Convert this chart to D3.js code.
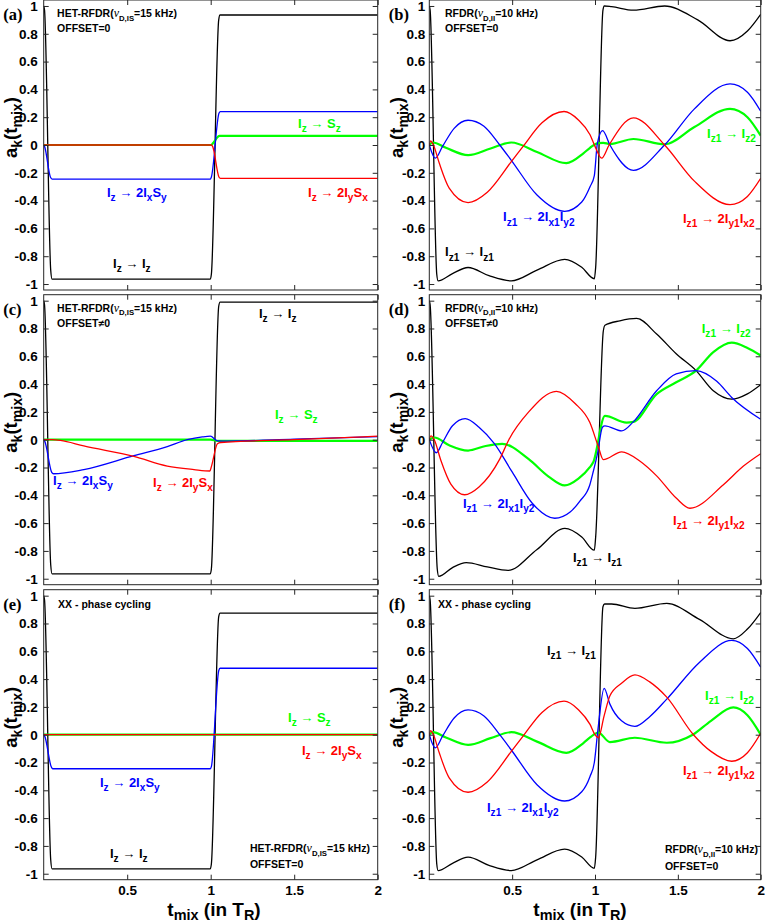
<!DOCTYPE html>
<html><head><meta charset="utf-8">
<script src="https://cdn.jsdelivr.net/npm/d3@7"></script>
<style>body{margin:0;background:#fff}svg{display:block}</style>
</head><body><svg id="c" width="768" height="922"></svg>
<script>
// ---------- tick values / labels ----------
const yTickValues = [-1,-0.8,-0.6,-0.4,-0.2,0,0.2,0.4,0.6,0.8,1];
const yTickLabels = ["-1","-0.8","-0.6","-0.4","-0.2","0","0.2","0.4","0.6","0.8","1"];
const xTickValues = [0.5,1,1.5,2];
const xTickLabels = ["0.5","1","1.5","2"];

// ---------- series: [t_mix (T_R), a_k] ----------
// (a) HET-RFDR, offset = 0
const aBlack = [[0,1],[0.005,0.97],[0.042,-0.9],[0.05,-0.965],[0.998,-0.965],[1.004,-0.93],[1.048,0.9],[1.056,0.935],[2,0.935]];
const aGreen = [[0,0],[1.004,0],[1.012,0.01],[1.044,0.06],[1.052,0.065],[2,0.065]];
const aBlue  = [[0,0],[0.005,-0.01],[0.04,-0.23],[0.05,-0.245],[0.998,-0.245],[1.004,-0.23],[1.05,0.23],[1.058,0.24],[2,0.24]];
const aRed   = [[0,0],[1.004,0],[1.012,-0.012],[1.05,-0.232],[1.058,-0.24],[2,-0.24]];
// (c) HET-RFDR, offset != 0
const cBlack = [[0,1],[0.005,0.97],[0.042,-0.9],[0.05,-0.965],[0.998,-0.965],[1.004,-0.93],[1.048,0.96],[1.056,0.99],[2,0.99]];
const cGreen = [[0,0],[1.0,0],[1.04,-0.008],[2,-0.008]];
const cBlue  = [[0,0],[0.006,-0.01],[0.048,-0.235],[0.058,-0.245],[0.24,-0.215],[0.54,-0.115],[0.74,-0.05],[0.86,0],[0.95,0.02],[0.998,0.025],[1.04,-0.008],[1.1,-0.01],[1.5,0.004],[2,0.022]];
const cRed   = [[0,0],[0.05,0],[0.1,-0.005],[0.24,-0.045],[0.54,-0.12],[0.74,-0.19],[0.9,-0.215],[0.995,-0.225],[1.005,-0.19],[1.04,-0.03],[1.06,-0.02],[1.5,0],[2,0.025]];
// (e) HET-RFDR, XX phase cycling
const eBlack = [[0,1],[0.005,0.97],[0.042,-0.9],[0.05,-0.965],[0.998,-0.965],[1.004,-0.93],[1.048,0.85],[1.056,0.875],[2,0.875]];
const eGreen = [[0,0],[2,0]];
const eBlue  = [[0,0],[0.006,-0.01],[0.045,-0.23],[0.054,-0.245],[0.998,-0.245],[1.004,-0.23],[1.048,0.46],[1.056,0.478],[2,0.478]];
const eRed   = [[0,0],[2,0]];
// (b) RFDR, offset = 0
const bBlack = [[0,1],[0.005,0.97],[0.045,-0.93],[0.053,-0.977],[0.14,-0.925],[0.234,-0.881],[0.36,-0.94],[0.495,-0.977],[0.65,-0.9],[0.817,-0.823],[0.92,-0.88],[0.996,-0.962],[1.004,-0.88],[1.048,0.97],[1.056,1.0],[1.1,0.995],[1.232,0.97],[1.42,1.0],[1.62,0.9],[1.815,0.75],[1.92,0.82],[2,0.94]];
const bGreen = [[0,0],[0.022,0.018],[0.1,-0.02],[0.234,-0.073],[0.37,-0.025],[0.495,0.018],[0.65,-0.05],[0.827,-0.131],[0.93,-0.06],[0.97,-0.02],[1.02,0.014],[1.05,0.016],[1.09,0.007],[1.232,0.043],[1.42,0.005],[1.6,0.13],[1.815,0.26],[1.92,0.2],[2,0.067]];
const bBlue  = [[0,0],[0.036,-0.095],[0.08,-0.01],[0.15,0.12],[0.234,0.178],[0.33,0.135],[0.425,0.0],[0.495,-0.11],[0.65,-0.36],[0.817,-0.477],[0.92,-0.41],[0.97,-0.3],[0.996,-0.22],[1.014,0.01],[1.046,0.103],[1.09,0.0],[1.232,-0.182],[1.42,0.0],[1.6,0.26],[1.815,0.439],[1.92,0.38],[2,0.243]];
const bRed   = [[0,0],[0.008,0.03],[0.025,0],[0.06,-0.13],[0.12,-0.31],[0.234,-0.414],[0.35,-0.34],[0.495,-0.12],[0.566,-0.01],[0.68,0.16],[0.813,0.241],[0.9,0.18],[0.97,0.074],[1.0,-0.01],[1.04,-0.095],[1.085,0],[1.232,0.195],[1.42,0],[1.6,-0.26],[1.815,-0.429],[1.92,-0.37],[2,-0.24]];
// (d) RFDR, offset != 0
const dBlack = [[0,1],[0.005,0.97],[0.048,-0.93],[0.057,-0.983],[0.14,-0.92],[0.223,-0.884],[0.35,-0.915],[0.475,-0.94],[0.65,-0.79],[0.818,-0.638],[0.92,-0.7],[0.996,-0.795],[1.004,-0.7],[1.05,0.78],[1.06,0.823],[1.15,0.855],[1.251,0.872],[1.372,0.76],[1.49,0.618],[1.61,0.497],[1.714,0.352],[1.825,0.292],[1.92,0.33],[2,0.396]];
const dGreen = [[0,0],[0.03,0.016],[0.12,-0.04],[0.234,-0.078],[0.34,-0.045],[0.44,-0.03],[0.6,-0.14],[0.72,-0.265],[0.817,-0.329],[0.9,-0.28],[0.969,-0.198],[0.99,-0.16],[1.06,0.171],[1.19,0.123],[1.231,0.128],[1.372,0.328],[1.49,0.413],[1.61,0.497],[1.714,0.63],[1.825,0.698],[1.92,0.66],[2,0.606]];
const dBlue  = [[0,0],[0.042,-0.094],[0.08,-0.02],[0.14,0.1],[0.217,0.152],[0.3,0.09],[0.394,-0.03],[0.5,-0.232],[0.62,-0.455],[0.757,-0.565],[0.85,-0.52],[0.91,-0.44],[0.969,-0.324],[0.99,-0.227],[1.015,-0.1],[1.045,0.09],[1.06,0.099],[1.161,0.063],[1.231,0.128],[1.372,0.352],[1.49,0.473],[1.61,0.497],[1.735,0.42],[1.825,0.304],[2,0.147]];
const dRed   = [[0,0],[0.01,0.028],[0.03,0],[0.07,-0.15],[0.13,-0.32],[0.213,-0.396],[0.3,-0.34],[0.425,-0.14],[0.48,0],[0.6,0.2],[0.767,0.348],[0.88,0.26],[0.969,0.123],[1.02,-0.05],[1.05,-0.143],[1.161,-0.087],[1.272,-0.155],[1.372,-0.26],[1.49,-0.42],[1.573,-0.493],[1.775,-0.324],[1.896,-0.19],[2,-0.101]];
// (f) RFDR, XX phase cycling
const fBlack = [[0,1],[0.005,0.97],[0.045,-0.93],[0.053,-0.977],[0.14,-0.925],[0.234,-0.881],[0.36,-0.94],[0.495,-0.977],[0.65,-0.9],[0.817,-0.823],[0.92,-0.88],[0.996,-0.962],[1.004,-0.88],[1.048,0.92],[1.058,0.94],[1.1,0.94],[1.241,0.908],[1.433,0.944],[1.63,0.83],[1.835,0.69],[1.92,0.76],[2,0.879]];
const fGreen = [[0,0],[0.022,0.018],[0.1,-0.02],[0.234,-0.073],[0.37,-0.025],[0.495,0.018],[0.65,-0.05],[0.827,-0.131],[0.93,-0.06],[0.97,-0.02],[1.02,0.015],[1.09,-0.053],[1.24,-0.022],[1.433,-0.058],[1.59,0],[1.7,0.1],[1.835,0.196],[1.92,0.14],[2,0]];
const fBlue  = [[0,0],[0.036,-0.095],[0.08,-0.01],[0.15,0.12],[0.234,0.178],[0.33,0.135],[0.425,0.0],[0.495,-0.11],[0.65,-0.36],[0.817,-0.477],[0.92,-0.41],[0.97,-0.3],[0.996,-0.2],[1.018,0.04],[1.055,0.333],[1.09,0.22],[1.16,0.1],[1.241,0.06],[1.33,0.13],[1.433,0.256],[1.63,0.52],[1.825,0.678],[1.92,0.62],[2,0.486]];
const fRed   = [[0,0],[0.008,0.03],[0.025,0],[0.06,-0.13],[0.12,-0.31],[0.234,-0.414],[0.35,-0.34],[0.495,-0.12],[0.566,-0.01],[0.68,0.16],[0.813,0.241],[0.9,0.18],[0.97,0.074],[1.0,0.0],[1.02,-0.022],[1.055,0.135],[1.09,0.28],[1.16,0.37],[1.241,0.43],[1.33,0.38],[1.433,0.27],[1.594,0],[1.7,-0.12],[1.825,-0.191],[1.92,-0.13],[2,0.01]];

// ---------- label texts ----------
const hetText = "HET-RFDR(*{ν}_{D,IS}=15 kHz)";
const rfdrText = "RFDR(*{ν}_{D,II}=10 kHz)";
const off0 = "OFFSET=0", offN = "OFFSET≠0", xxText = "XX - phase cycling";
const L_zz = "I_{z} → I_{z}", L_zSz = "I_{z} → S_{z}", L_xSy = "I_{z} → 2I_{x}S_{y}", L_ySx = "I_{z} → 2I_{y}S_{x}";
const L_11 = "I_{z1} → I_{z1}", L_12 = "I_{z1} → I_{z2}", L_x1y2 = "I_{z1} → 2I_{x1}I_{y2}", L_y1x2 = "I_{z1} → 2I_{y1}I_{x2}";

const K="#000000", G="#00ff00", B="#0000ff", R="#ff0000";
const panels = [
 {letter:"(a)", col:0,row:0, series:[[aBlack,K],[aGreen,G],[aBlue,B],[aRed,R]],
  notes:[[hetText,0.08,0.92,K,"s"],[off0,0.08,0.815,K,"s"],[L_xSy,0.379,-0.374,B],[L_zSz,1.523,0.122,G],[L_ySx,1.583,-0.374,R],[L_zz,0.415,-0.885,K]]},
 {letter:"(b)", col:1,row:0, series:[[bBlack,K],[bGreen,G],[bBlue,B],[bRed,R]],
  notes:[[rfdrText,0.095,0.92,K,"s"],[off0,0.095,0.815,K,"s"],[L_x1y2,0.445,-0.55,B],[L_12,1.676,0.05,G],[L_y1x2,1.531,-0.56,R],[L_11,0.095,-0.8,K]]},
 {letter:"(c)", col:0,row:1, series:[[cBlack,K],[cGreen,G],[cBlue,B],[cRed,R]],
  notes:[[hetText,0.08,0.92,K,"s"],[offN,0.08,0.81,K,"s"],[L_zz,1.289,0.876,K],[L_zSz,1.385,0.149,G],[L_xSy,0.056,-0.326,B],[L_ySx,0.655,-0.34,R]]},
 {letter:"(d)", col:1,row:1, series:[[dBlack,K],[dGreen,G],[dBlue,B],[dRed,R]],
  notes:[[rfdrText,0.095,0.92,K,"s"],[offN,0.095,0.81,K,"s"],[L_12,1.644,0.768,G],[L_x1y2,0.203,-0.491,B],[L_y1x2,1.471,-0.614,R],[L_11,0.867,-0.88,K]]},
 {letter:"(e)", col:0,row:2, series:[[eBlack,K],[eGreen,G],[eBlue,B],[eRed,R]],
  notes:[[xxText,0.086,0.912,K,"s"],[L_zSz,1.463,0.091,G],[L_ySx,1.546,-0.146,R],[L_xSy,0.337,-0.376,B],[L_zz,0.397,-0.887,K],[hetText,1.235,-0.844,K,"s"],[off0,1.235,-0.959,K,"s"]]},
 {letter:"(f)", col:1,row:2, series:[[fBlack,K],[fGreen,G],[fBlue,B],[fRed,R]],
  notes:[[xxText,0.053,0.912,K,"s"],[L_11,0.71,0.573,K],[L_12,1.664,0.25,G],[L_y1x2,1.531,-0.29,R],[L_x1y2,0.348,-0.556,B],[rfdrText,1.422,-0.851,K,"s"],[off0,1.422,-0.973,K,"s"]]}
];

// ---------- layout ----------
const colX = [[43.7,377.7],[429.3,760.7]];
const rowTop = [0, 294.7, 589.7];
const panelH = 290;
const sans = "'Liberation Sans', Arial, sans-serif";
const serif = "'Liberation Serif', 'Times New Roman', serif";

const svg = d3.select("#c");

function rich(sel, str, size, subR=0.74, subDy=0.32){
  const parts = str.split(/(_\{[^}]*\}|\*\{[^}]*\})/).filter(s=>s.length);
  let pending = 0;
  parts.forEach(p=>{
    if(p.startsWith("_{")){
      sel.append("tspan").attr("font-size", size*subR).attr("dy", size*subDy).text(p.slice(2,-1));
      pending = -size*subDy;
    } else if(p.startsWith("*{")){
      const t = sel.append("tspan").attr("font-family", serif).attr("font-style","italic").attr("font-weight","normal").attr("font-size", size*1.15).text(p.slice(2,-1));
      if(pending){ t.attr("dy", pending); pending = 0; }
    } else {
      const t = sel.append("tspan").text(p);
      if(pending){ t.attr("dy", pending); pending = 0; }
    }
  });
}

panels.forEach(p=>{
  const [x0,x1] = colX[p.col];
  const top = rowTop[p.row];
  const x = d3.scaleLinear().domain([0,2]).range([x0,x1]);
  const y = d3.scaleLinear().domain([-1.043,1.043]).range([top+panelH, top]);
  const g = svg.append("g");

  const line = d3.line().x(d=>x(d[0])).y(d=>y(d[1])).curve(d3.curveMonotoneX);
  const clip = "clip"+p.letter.replace(/\W/g,"");
  svg.append("defs").append("clipPath").attr("id",clip).append("rect")
     .attr("x",x0).attr("y",top).attr("width",x1-x0).attr("height",panelH);
  const lg = g.append("g").attr("clip-path","url(#"+clip+")");
  p.series.forEach(([data,col])=>{
    lg.append("path").datum(data).attr("d",line).attr("fill","none")
      .attr("stroke",col).attr("stroke-width", col===G?2.2:1.3).attr("stroke-linejoin","round");
  });

  // axes (inward ticks)
  const fmtY = d=>yTickLabels[yTickValues.indexOf(d)];
  const fmtX = d=>xTickLabels[xTickValues.indexOf(d)];
  const yl = g.append("g").attr("transform",`translate(${x0},0)`)
    .call(d3.axisLeft(y).tickValues(yTickValues).tickFormat(fmtY).tickSize(-5).tickSizeOuter(0).tickPadding(p.col===0?6:4));
  const yr = g.append("g").attr("transform",`translate(${x1},0)`)
    .call(d3.axisRight(y).tickValues(yTickValues).tickFormat("").tickSize(-5).tickSizeOuter(0));
  const xt = g.append("g").attr("transform",`translate(0,${top})`)
    .call(d3.axisTop(x).tickValues(xTickValues).tickFormat("").tickSize(-5).tickSizeOuter(0));
  const xb = g.append("g").attr("transform",`translate(0,${top+panelH})`)
    .call(d3.axisBottom(x).tickValues(xTickValues).tickFormat(p.row===2?fmtX:"").tickSize(-5).tickSizeOuter(0).tickPadding(6));
  [yl,yr,xt,xb].forEach(a=>{
    a.select(".domain").remove();
    a.selectAll("line").attr("stroke","#262626");
    a.selectAll("text").attr("font-family",sans).attr("font-weight","bold").attr("font-size",13.5).attr("fill","#000");
  });
  g.append("rect").attr("x",x0).attr("y",top).attr("width",x1-x0).attr("height",panelH)
    .attr("fill","none").attr("stroke","#262626").attr("stroke-width",1);

  // y title
  const yt = g.append("text").attr("transform",`translate(${x0-26.5},${top+158}) rotate(-90)`)
    .attr("text-anchor","start").attr("font-family",sans).attr("font-weight","bold").attr("font-size",18.5);
  rich(yt, "a_{k}(t_{mix})", 18.5, 0.76, 0.28);

  // panel letter
  g.append("text").attr("x", x0-40.5).attr("y", top+20).attr("font-family",serif).attr("font-weight","bold")
   .attr("font-size",16.5).text(p.letter);

  // notes
  p.notes.forEach(([txt,t,v,col,kind])=>{
    const size = kind==="s"?10.5:13;
    const tx = g.append("text").attr("x",x(t)).attr("y",y(v)).attr("fill",col)
      .attr("font-family",sans).attr("font-weight","bold").attr("font-size",size);
    rich(tx, txt, size, kind==="s"?0.74:0.78, 0.34);
  });

  // x title
  if(p.row===2){
    const xtT = g.append("text").attr("x", p.col===0?214:580).attr("y", 916).attr("text-anchor","middle")
      .attr("font-family",sans).attr("font-weight","bold").attr("font-size",19);
    rich(xtT, "t_{mix} (in T_{R})", 19, 0.76, 0.22);
  }
});
</script></body></html>
